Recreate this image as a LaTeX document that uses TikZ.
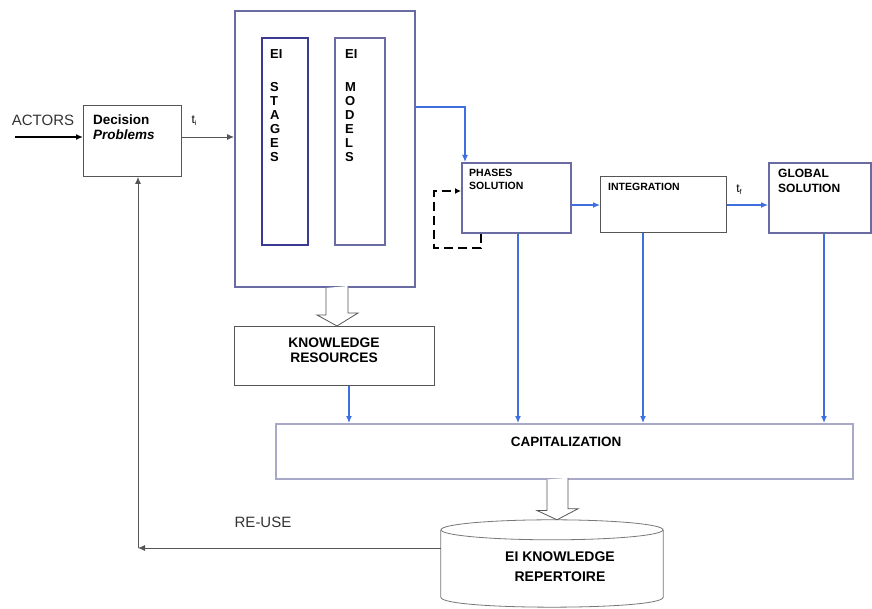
\documentclass[tikz,border=0pt]{standalone}
\usepackage{fontspec}
\setmainfont{Liberation Sans}
\usetikzlibrary{arrows.meta,calc}
\definecolor{pur}{HTML}{6B6BA3}
\definecolor{dpur}{HTML}{3A3A95}
\definecolor{blu}{HTML}{3D6FE0}
\definecolor{gbox}{HTML}{555555}
\definecolor{capb}{HTML}{A8A8C8}
\definecolor{txtg}{HTML}{333333}
\begin{document}
\begin{tikzpicture}[x=1pt,y=-1pt,
  graybox/.style={draw=gbox,line width=0.9pt,inner sep=0pt,anchor=north west},
  purbox/.style={draw=pur,line width=2pt,inner sep=0pt,anchor=north west},
  txt/.style={inner sep=0pt,align=left,anchor=north west,text=black},
  blarrow/.style={draw=blu,line width=1.2pt,-{Latex[length=7pt,width=6pt]}},
  bkarrow/.style={draw=gbox,line width=0.9pt,-{Latex[length=7pt,width=6pt]}},
  hollow/.style={draw=gbox,line width=0.8pt,fill=white},
  letters/.style={inner sep=0pt,align=left,anchor=north west,font=\bfseries\fontsize{13}{14}\selectfont}]
\useasboundingbox[fill=white] (0,0) rectangle (872,609);

% boxes
\node[graybox,minimum width=98pt,minimum height=71pt] (dp) at (83,105) {};
\node[purbox,minimum width=180pt,minimum height=276pt] (big) at (234,10) {};
\node[draw=dpur,line width=1.8pt,inner sep=0pt,anchor=north west,minimum width=46pt,minimum height=207pt] (stg) at (261,37) {};
\node[purbox,line width=1.8pt,minimum width=50pt,minimum height=207pt] (mdl) at (334,37) {};
\node[purbox,line width=2.2pt,minimum width=109pt,minimum height=70pt] (ph) at (461,162) {};
\node[graybox,minimum width=126pt,minimum height=56pt] (ing) at (600,176) {};
\node[purbox,line width=2.2pt,minimum width=102pt,minimum height=70pt] (gs) at (768,162) {};
\node[graybox,line width=1.1pt,minimum width=200pt,minimum height=59pt] (kr) at (234,326) {};
\node[draw=capb,line width=1.5pt,inner sep=0pt,anchor=north west,minimum width=577pt,minimum height=55pt] (cap) at (275,423) {};
\node[inner sep=0pt,minimum width=222pt,minimum height=87pt] (rep) at (552,563.5) {};

% texts
\node[txt,font=\bfseries\fontsize{13.5}{15}\selectfont] (dpt) at (93,115) {Decision\\\textit{Problems}};
\node[letters] (stgt) at (270,49) {EI\\[19pt]S\\T\\A\\G\\E\\S};
\node[letters] (mdlt) at (345,49) {EI\\[19pt]M\\O\\D\\E\\L\\S};
\node[txt,font=\bfseries\fontsize{10.5}{13}\selectfont] (pht) at (469,169) {PHASES\\SOLUTION};
\node[txt,font=\bfseries\fontsize{10.5}{13}\selectfont] (ingt) at (608,183) {INTEGRATION};
\node[txt,font=\bfseries\fontsize{12}{15}\selectfont] (gst) at (778,169) {GLOBAL\\SOLUTION};
\node[inner sep=0pt,align=center,font=\bfseries\fontsize{13.8}{15}\selectfont] (krt) at (334,350) {KNOWLEDGE\\RESOURCES};
\node[inner sep=0pt,font=\bfseries\fontsize{13.5}{15}\selectfont] (capt) at (566,442) {CAPITALIZATION};
\node[inner sep=0pt,align=center,font=\bfseries\fontsize{14}{20}\selectfont] (rept) at (560,567) {EI KNOWLEDGE\\REPERTOIRE};
\node[inner sep=0pt,text=txtg,font=\fontsize{15}{16}\selectfont] (act) at (43,120) {ACTORS};
\node[inner sep=0pt,text=txtg,font=\fontsize{15}{16}\selectfont] (reuse) at (263,522) {RE-USE};
\node[inner sep=0pt,font=\fontsize{12}{14}\selectfont] (ti) at (194,121) {t\raisebox{-2pt}{\scriptsize i}};
\node[inner sep=0pt,font=\fontsize{12}{14}\selectfont] (tf) at (739,190) {t\raisebox{-2pt}{\scriptsize f}};

% cylinder
\draw[draw=gbox!80,line width=0.8pt] ($(rep.north)+(0,10)$) ellipse [x radius=111, y radius=10];
\draw[draw=gbox!80,line width=0.8pt] ($(rep.north west)+(0,10)$) -- ($(rep.south west)+(0,-10)$)
   .. controls ($(rep.south west)+(0,3.3)$) and ($(rep.south east)+(0,3.3)$) .. ($(rep.south east)+(0,-10)$)
   -- ($(rep.north east)+(0,10)$);

% coordinates
\coordinate (a0) at (15,137);
\coordinate (b1) at (465,107);
\coordinate (h1) at (0,205);
\coordinate (v1) at (518,0);
\coordinate (v2) at (643,0);
\coordinate (v3) at (824,0);
\coordinate (v4) at (349,0);
\coordinate (ba) at (337,0);
\coordinate (bb) at (557,0);
\coordinate (ru) at (138,548);
\coordinate (dl) at (434,191);

% connectors
\draw[draw=black,line width=2.2pt,-{Latex[length=7pt,width=6pt]}] (a0) -- (a0 -| dp.west);
\draw[bkarrow] (dp.east |- a0) -- (big.west |- a0);
\draw[blarrow] (big.east |- b1) -- (b1) -- (b1 |- ph.north);
\draw[blarrow] (ph.east |- h1) -- (ing.west |- h1);
\draw[blarrow] (ing.east |- h1) -- (gs.west |- h1);
\draw[blarrow] (ph.south -| v1) -- (cap.north -| v1);
\draw[blarrow] (ing.south -| v2) -- (cap.north -| v2);
\draw[blarrow] (gs.south -| v3) -- (cap.north -| v3);
\draw[blarrow] (kr.south -| v4) -- (cap.north -| v4);
\draw[draw=black,line width=2.2pt,dash pattern=on 9pt off 5pt,-{Latex[length=6pt,width=6pt]}]
   ($(ph.south west)+(20,0)$) -- ++(0,14) -| (dl) -- (dl -| ph.west);
\draw[hollow] ($(big.south -| ba)+(-11,0)$) -- ++(0,27) -- ++(-9,0) -- (kr.north -| ba) -- ++(21,-13) -- ++(-10,0) -- ++(0,-27);
\draw[hollow] ($(cap.south -| bb)+(-10,0)$) -- ++(0,31) -- ++(-10,0) -- (rep.north -| bb) -- ++(21,-11) -- ++(-10,0) -- ++(0,-31);
\draw[bkarrow] (rep.west |- ru) -- (ru);
\draw[bkarrow] (ru) -- (dp.south -| ru);
\end{tikzpicture}
\end{document}
